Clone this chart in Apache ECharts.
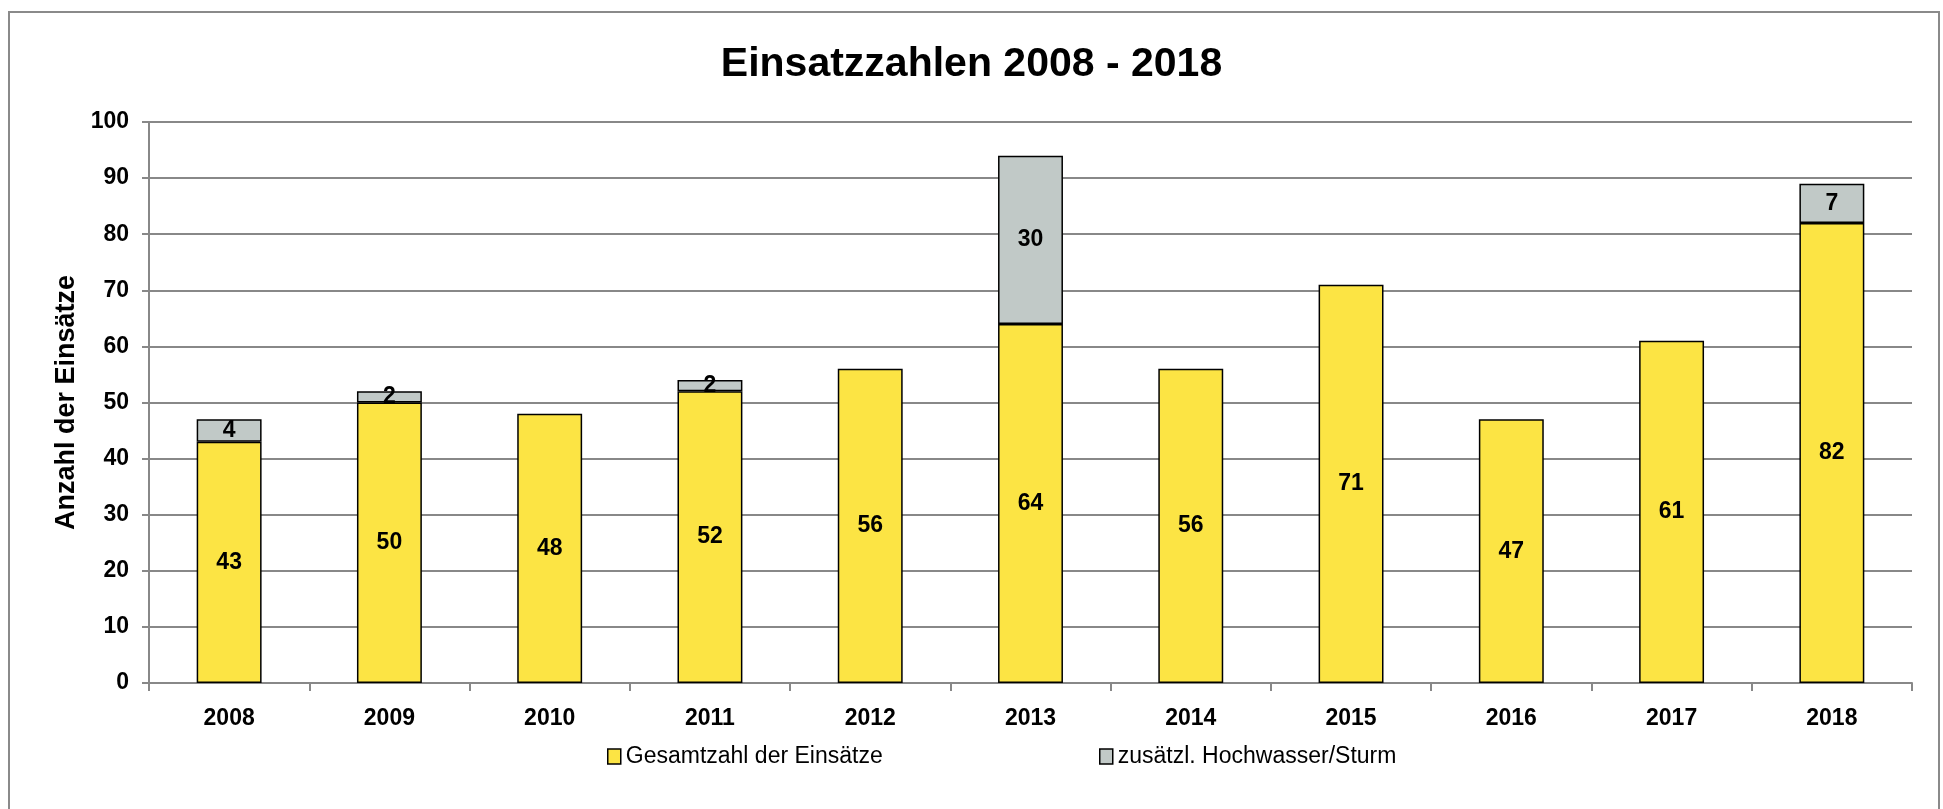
<!DOCTYPE html>
<html>
<head>
<meta charset="utf-8">
<script src="https://cdn.jsdelivr.net/npm/echarts@6/dist/echarts.min.js"></script>
<style>
    html, body {margin: 0; padding: 0; background: #ffffff;}
    #chart {width: 1943px; height: 809px;}
</style>
</head>
<body>
<div id="chart"></div>
<script>
// Daten
var years = ['2008', '2009', '2010', '2011', '2012', '2013', '2014', '2015', '2016', '2017', '2018'];
var gesamt = [43, 50, 48, 52, 56, 64, 56, 71, 47, 61, 82];
var hochwasser = [4, 2, null, 2, null, 30, null, null, null, null, 7];
var yTicks = [0, 10, 20, 30, 40, 50, 60, 70, 80, 90, 100];

var font = 'Liberation Sans';
var gridColor = '#888888';

var labelStyle = {
    show: true,
    position: 'inside',
    color: '#000000',
    fontFamily: font,
    fontWeight: 'bold',
    fontSize: 23
};

var legendText = {fontFamily: font, fontSize: 23, color: '#000000'};

var chart = echarts.init(document.getElementById('chart'));
chart.setOption({
    animation: false,
    title: {
        text: 'Einsatzzahlen 2008 - 2018',
        left: 'center',
        top: 39,
        textStyle: {
            fontFamily: font,
            fontWeight: 'bold',
            fontSize: 41,
            color: '#000000'
        }
    },
    graphic: [{
        type: 'rect',
        shape: {x: 9, y: 12, width: 1930, height: 900},
        style: {fill: 'none', stroke: '#8a8a8a', lineWidth: 2},
        silent: true
    }],
    legend: [{
        data: ['Gesamtzahl der Einsätze'],
        left: 602,
        top: 740,
        icon: 'rect',
        itemWidth: 13,
        itemHeight: 15,
        itemStyle: {borderColor: '#000000', borderWidth: 1.5},
        textStyle: legendText
    }, {
        data: ['zusätzl. Hochwasser/Sturm'],
        left: 1094,
        top: 740,
        icon: 'rect',
        itemWidth: 13,
        itemHeight: 15,
        itemStyle: {borderColor: '#000000', borderWidth: 1.5},
        textStyle: legendText
    }],
    grid: {
        left: 149,
        right: 31,
        top: 122,
        bottom: 126,
        containLabel: false
    },
    xAxis: {
        type: 'category',
        data: years,
        axisLine: {lineStyle: {color: gridColor, width: 2}},
        axisTick: {show: true, length: 8, lineStyle: {color: gridColor, width: 2}},
        axisLabel: {
            color: '#000000',
            fontFamily: font,
            fontWeight: 'bold',
            fontSize: 23,
            margin: 24
        }
    },
    yAxis: {
        type: 'value',
        min: yTicks[0],
        max: yTicks[yTicks.length - 1],
        interval: 10,
        name: 'Anzahl der Einsätze',
        nameLocation: 'middle',
        nameGap: 68,
        nameTextStyle: {
            color: '#000000',
            fontFamily: font,
            fontWeight: 'bold',
            fontSize: 27
        },
        axisLine: {show: true, lineStyle: {color: gridColor, width: 2}},
        axisTick: {show: true, length: 7, lineStyle: {color: gridColor, width: 2}},
        axisLabel: {
            color: '#000000',
            fontFamily: font,
            fontWeight: 'bold',
            fontSize: 23,
            margin: 20
        },
        splitLine: {lineStyle: {color: gridColor, width: 2}}
    },
    series: [{
        name: 'Gesamtzahl der Einsätze',
        type: 'bar',
        stack: 'total',
        barWidth: '40.5%',
        data: gesamt,
        itemStyle: {color: '#FCE444', borderColor: '#000000', borderWidth: 1.5},
        label: labelStyle
    }, {
        name: 'zusätzl. Hochwasser/Sturm',
        type: 'bar',
        stack: 'total',
        barWidth: '40.5%',
        data: hochwasser,
        itemStyle: {color: '#C1C9C7', borderColor: '#000000', borderWidth: 1.5},
        label: labelStyle
    }]
});
</script>
</body>
</html>
